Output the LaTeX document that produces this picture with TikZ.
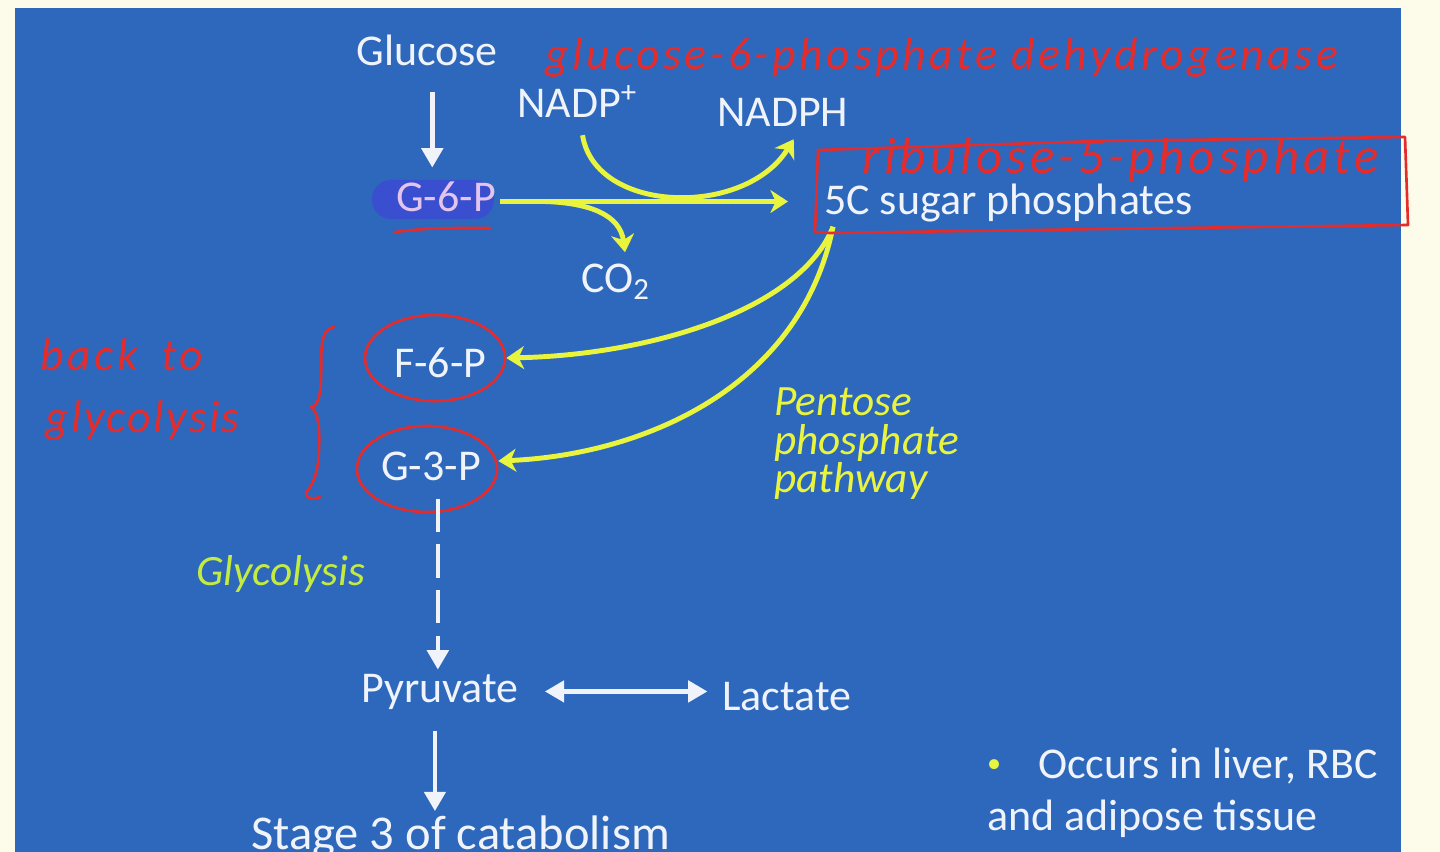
\documentclass[tikz,border=0pt]{standalone}
\usepackage{fontspec}
\setmainfont{Carlito}
\usetikzlibrary{arrows.meta,positioning,calc,shapes.geometric}
\definecolor{slidecream}{RGB}{253,251,233}
\definecolor{slideblue}{RGB}{46,104,188}
\definecolor{pathyellow}{RGB}{232,244,62}
\definecolor{glycgreen}{RGB}{196,236,64}
\definecolor{penred}{RGB}{228,44,44}
\definecolor{hiliteblue}{RGB}{58,78,208}
\definecolor{lavender}{RGB}{226,196,236}
\definecolor{chalk}{RGB}{240,244,250}

\begin{document}
\begin{tikzpicture}[x=0.01cm, y=-0.01cm,
      chalktext/.style={text=chalk, font=\fontsize{12.5}{15}\selectfont,
                        inner sep=1pt, anchor=base west},
      ytext/.style={text=pathyellow, font=\fontsize{12.3}{15}\selectfont\itshape,
                    inner sep=1pt, anchor=base west},
      pennote/.style={text=penred, inner sep=0pt, anchor=base west,
                      font=\fontsize{13}{16}\selectfont\itshape\addfontfeatures{LetterSpace=8}},
      penring/.style={ellipse, draw=penred, line width=0.75pt,
                      minimum width=1.40cm, minimum height=0.86cm},
      penline/.style={draw=penred, line width=0.75pt, line cap=round, line join=round},
      warrow/.style={-{Triangle[length=5.5pt,width=6pt]}, draw=chalk, line width=1.3pt},
      wboth/.style={{Triangle[length=5.5pt,width=6pt]}-{Triangle[length=5.5pt,width=6pt]},
                    draw=chalk, line width=1.3pt},
      yarrow/.style={-{Stealth[length=5pt,width=6.5pt,inset=1.5pt]},
                     draw=pathyellow, line width=1.4pt},
    ]
      \useasboundingbox (0,0) rectangle (1440,852);
      \clip (0,0) rectangle (1440,852);
      %% Slide
      \fill[slidecream] (0,0) rectangle (1440,852);
      \fill[slideblue] (15,8) rectangle (1401,852);
      %% Top of the pathway
      \node[chalktext, anchor=base] (glucose) at (427,66) {Glucose};
      \fill[hiliteblue, rounded corners=0.19cm] (372,180) rectangle (494,219);
      \node[chalktext, text=lavender] (g6p) at (392,212) {G-6-P};
      \node[chalktext] (nadp)  at (513,118) {NADP\textsuperscript{+}};
      \node[chalktext] (nadph) at (713,127) {NADPH};
      \node[chalktext] (co2)   at (577,293) {CO\textsubscript{2}};
      \node[chalktext] (sugar) at (820,215) {5C sugar phosphates};
      %% Back into glycolysis
      \node[chalktext] (f6p) at (390,377) {F-6-P};
      \node[chalktext] (g3p) at (377,480) {G-3-P};
      \node[ytext] (ppp1) at (770,416) {Pentose};
      \node[ytext] (ppp2) at (770,454) {phosphate};
      \node[ytext] (ppp3) at (770,492) {pathway};
      \node[ytext, text=glycgreen] (glyco) at (192,585) {Glycolysis};
      %% Bottom
      \node[chalktext] (pyr) at (357,702) {Pyruvate};
      \node[chalktext] (lac) at (718,710) {Lactate};
      \node[chalktext, font=\fontsize{13.8}{16}\selectfont] (stage) at (247,849)
            {Stage 3 of catabolism};
      \node[chalktext] (occurs1) at (983,778)
            {\textcolor{pathyellow}{\raisebox{1.6pt}{\fontsize{8}{8}\selectfont\textbullet}}%
             \hspace{10.5pt}Occurs in liver, RBC};
      \node[chalktext] (occurs2) at (983,830) {and adipose tissue};
      %% Arrows
      \coordinate (sugarin)  at ($(sugar.west)+(-32,-2)$);
      \coordinate (fork)     at ($(g6p.east |- sugarin)+(45,0)$);
      \coordinate (sugarout) at ($(sugar.south west)+(13,0)$);
      \draw[warrow, shorten <=6pt, shorten >=3pt] ([xshift=1.5pt]glucose.south)
            -- ([xshift=1.5pt]glucose.south |- g6p.north);
      \draw[yarrow] (g6p.east |- sugarin) -- (sugarin);
      \draw[yarrow] ($(nadp.south)+(5,13)$) .. controls (595,214) and (745,218)
            .. ($(nadph.south)+(11,8)$);
      \draw[yarrow] (fork) .. controls (590,203) and (620,215) .. ($(co2.north)+(9,-8)$);
      %% Penrings first, so that the arrows can end on them
      \node[penring] (f6pring) at (435,358) {};
      \node[penring] (g3pring) at (427,469) {};
      \draw[yarrow] (sugarout) .. controls (800,310) and (650,355) .. (f6pring.east);
      \draw[yarrow] (sugarout) .. controls (800,390) and (640,455) .. ($(g3pring.east)+(0,-8)$);
      \draw[warrow, dash pattern=on 9.5pt off 3.5pt] ($(pyr.north |- g3p.south)+(-2,14)$)
            -- ($(pyr.north)+(-2,0)$);
      \draw[wboth, shorten <=6.3pt, shorten >=3pt] (pyr.east) -- (pyr.east -| lac.west);
      \draw[warrow, shorten <=5pt] ([xshift=-1.4pt]pyr.south)
            -- ([xshift=-1.4pt]pyr.south |- stage.north);
      %% Handwritten notes
      \node[pennote] (g6pd) at (545,70) {glucose-6-phosphate dehydrogenase};
      \node[pennote, font=\fontsize{14.5}{17}\selectfont\itshape\addfontfeatures{LetterSpace=8}]
            (ribu) at (862,174) {ribulose-5-phosphate};
      \node[pennote] (back) at (40,370) {back\enspace to};
      \node[pennote, font=\fontsize{13}{16}\selectfont\itshape\addfontfeatures{LetterSpace=5}]
            (backglyc) at (45,432) {glycolysis};
      \draw[penline] (818,150) -- (1100,141) -- (1405,137) -- (1408,225)
            -- (1100,229) -- (830,233) -- (815,232) -- cycle;
      \draw[penline] (395,232) .. controls (430,228) .. (490,228);
      \draw[penline] (334,327) .. controls (318,330) and (322,355) .. (321,380)
            .. controls (320,398) and (318,405) .. (311,407)
            .. controls (318,412) and (320,425) .. (319,450)
            .. controls (318,478) and (310,488) .. (306,492)
            .. controls (305,498) and (312,500) .. (320,497);
    \end{tikzpicture}
\end{document}
